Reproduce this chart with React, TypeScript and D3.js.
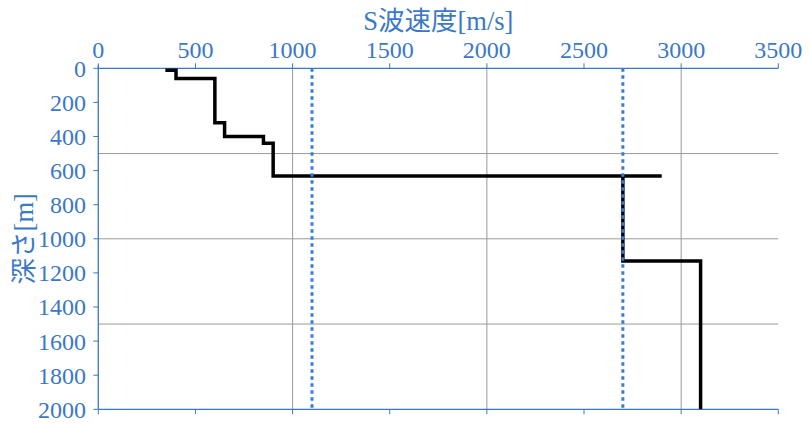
import React from "react";
import * as d3 from "d3";

// S-wave velocity profile (step line): velocity [m/s] vs depth [m]
const profileVelocity = [345, 400, 400, 600, 600, 650, 650, 850, 850, 900, 900, 2900, 2700, 2700, 3100, 3100];
const profileDepth = [12, 12, 60, 60, 320, 320, 400, 400, 440, 440, 632, 632, 632, 1130, 1130, 2000];

// Vertical dotted reference velocities
const refVelocities = [1100, 2700];

const xTicks = [0, 500, 1000, 1500, 2000, 2500, 3000, 3500];
const yTicks = [0, 200, 400, 600, 800, 1000, 1200, 1400, 1600, 1800, 2000];
const xGrid = [1000, 2000, 3000];
const yGrid = [500, 1000, 1500];

const xTitle = "S波速度[m/s]";
const yTitle = "深さ[m]";

const W = 810;
const H = 426;
const left = 98.3;
const right = 778.3;
const top = 68.3;
const bottom = 409.3;
const blue = "#3a78c8";
const font = "'Liberation Serif', 'Times New Roman', 'Noto Sans CJK JP', serif";

export default function App() {
  const x = d3.scaleLinear().domain([0, 3500]).range([left, right]);
  const y = d3.scaleLinear().domain([0, 2000]).range([top, bottom]);

  const pts: [number, number][] = profileVelocity.map((v, i) => [v, profileDepth[i]]);
  const line = d3
    .line<[number, number]>()
    .x((d) => x(d[0]))
    .y((d) => y(d[1]));

  return (
    <svg
      width={W}
      height={H}
      style={{ position: "absolute", left: 0, top: 0, background: "#fff" }}
    >
      <rect x={0} y={0} width={W} height={H} fill="#fff" />
      {/* grid */}
      {xGrid.map((v) => (
        <line key={"gx" + v} x1={x(v)} x2={x(v)} y1={y(0)} y2={y(2000)} stroke="#9a9a9a" strokeWidth={1} />
      ))}
      {yGrid.map((v) => (
        <line key={"gy" + v} x1={x(0)} x2={x(3500)} y1={y(v)} y2={y(v)} stroke="#9a9a9a" strokeWidth={1} />
      ))}

      {/* top axis */}
      <line x1={x(0)} x2={x(3500)} y1={y(0)} y2={y(0)} stroke={blue} strokeWidth={1.3} />
      {xTicks.map((v) => (
        <g key={"xt" + v}>
          <line x1={x(v)} x2={x(v)} y1={y(0) - 5} y2={y(0)} stroke={blue} strokeWidth={1} />
          <text
            x={x(v)}
            y={58}
            textAnchor="middle"
            fontFamily={font}
            fontSize={24}
            fill={blue}
          >
            {v}
          </text>
        </g>
      ))}

      {/* bottom axis line with ticks */}
      <line x1={x(0)} x2={x(3500)} y1={y(2000)} y2={y(2000)} stroke={blue} strokeWidth={1.3} />
      {xTicks.map((v) => (
        <line key={"xb" + v} x1={x(v)} x2={x(v)} y1={y(2000)} y2={y(2000) + 5} stroke={blue} strokeWidth={1} />
      ))}

      {/* left axis */}
      <line x1={x(0)} x2={x(0)} y1={y(0) - 3} y2={y(2000)} stroke={blue} strokeWidth={1.3} />
      {yTicks.map((v) => (
        <g key={"yt" + v}>
          <line x1={x(0) - 5} x2={x(0)} y1={y(v)} y2={y(v)} stroke={blue} strokeWidth={1} />
          <text
            x={86}
            y={y(v)}
            dy="0.35em"
            textAnchor="end"
            fontFamily={font}
            fontSize={24}
            fill={blue}
          >
            {v}
          </text>
        </g>
      ))}

      {/* profile */}
      <path d={line(pts) || ""} fill="none" stroke="#000" strokeWidth={3.5} strokeLinejoin="miter" />

      {/* dotted reference lines */}
      {refVelocities.map((v) => (
        <line
          key={"r" + v}
          x1={x(v)}
          x2={x(v)}
          y1={y(0)}
          y2={y(2000)}
          stroke="#3a7bd5"
          strokeWidth={3}
          strokeDasharray="3.5 3.5"
        />
      ))}

      {/* titles */}
      <text x={(left + right) / 2} y={30} textAnchor="middle" fontFamily={font} fontSize={26.5} fill={blue}>
        {xTitle}
      </text>
      <text
        transform={`translate(33, ${(top + bottom) / 2}) rotate(-90)`}
        textAnchor="middle"
        fontFamily={font}
        fontSize={26.5}
        fill={blue}
      >
        {yTitle}
      </text>
    </svg>
  );
}
